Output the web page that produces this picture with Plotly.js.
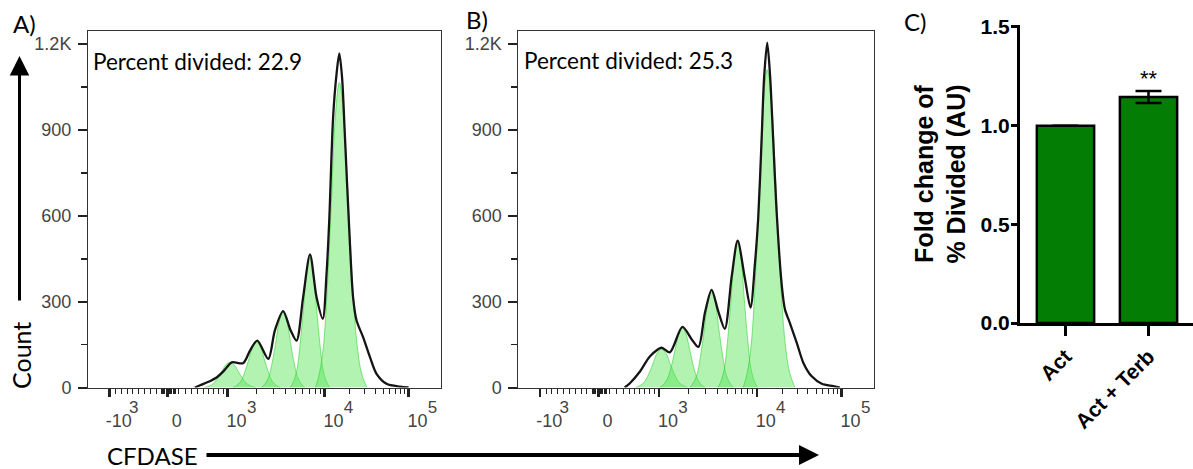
<!DOCTYPE html>
<html>
<head>
<meta charset="utf-8">
<script src="https://cdn.plot.ly/plotly-3.0.1.min.js"></script>
<style>html,body{margin:0;padding:0;background:#fff;}#chart{width:1193px;height:469px;}</style>
</head>
<body>
<div id="chart"></div>
<script>
// ---------- DATA ----------
// x values are CFDASE display channels (0-1024 on the biexponential scale)
const xTickChannels = [63, 231, 405, 686, 930];
const xTickBase = ["-10", "0", "10", "10", "10"];      // tick label base
const xTickExponent = ["3", "", "3", "4", "5"];        // tick label exponent
const yTickValues = [0, 300, 600, 900, 1200];
const yTickLabels = ["0", "300", "600", "900", "1.2K"];

// Panel A: measured histogram outline
const aOutlineCh    = [310, 325, 348, 374, 394, 417, 450, 470, 491, 523, 542, 566, 588, 605, 624, 644, 663, 681, 692, 700, 711, 721, 729, 737, 745, 758, 769, 779, 798, 818, 837, 866, 905, 930];
const aOutlineCount = [0, 8, 19, 36, 58, 88, 85, 129, 164, 100, 199, 267, 199, 164, 315, 465, 315, 240, 397, 590, 944, 1096, 1168, 1084, 886, 548, 315, 234, 176, 106, 48, 13, 3, 0];
// Panel A: fitted generation peaks
const aPeaksCh = [
  [337, 349, 362, 374, 387, 399, 412, 425, 437, 450, 462, 475, 487],
  [420, 431, 443, 454, 466, 477, 489, 501, 512, 524, 535, 547, 558],
  [503, 513, 524, 534, 545, 555, 566, 577, 587, 598, 608, 619, 629],
  [587, 596, 606, 615, 625, 634, 644, 654, 663, 673, 682, 692, 701],
  [660, 671, 683, 694, 706, 717, 729, 742, 755, 768, 781, 794, 809]
];
const aPeaksCount = [
  [0, 4, 12, 29, 53, 78, 88, 78, 53, 29, 12, 4, 0],
  [0, 7, 21, 51, 96, 139, 158, 139, 96, 51, 21, 7, 0],
  [0, 12, 36, 85, 160, 232, 263, 232, 160, 85, 36, 12, 0],
  [0, 20, 61, 148, 276, 401, 455, 401, 276, 148, 61, 20, 0],
  [0, 47, 144, 346, 647, 940, 1066, 940, 647, 346, 144, 47, 0]
];

// Panel B: measured histogram outline
const bOutlineCh    = [306, 321, 350, 379, 412, 436, 472, 499, 518, 537, 556, 575, 594, 614, 631, 652, 668, 681, 690, 700, 707, 716, 724, 733, 743, 758, 767, 781, 801, 820, 844, 873, 906, 925];
const bOutlineCount = [0, 15, 56, 109, 139, 123, 212, 168, 142, 262, 341, 267, 205, 390, 513, 379, 279, 437, 590, 871, 1082, 1205, 1094, 871, 615, 355, 273, 226, 156, 86, 39, 13, 5, 0];
// Panel B: fitted generation peaks
const bPeaksCh = [
  [337, 349, 362, 374, 387, 399, 412, 425, 437, 450, 462, 475, 487],
  [406, 417, 428, 439, 450, 461, 472, 483, 494, 505, 516, 527, 538],
  [493, 503, 514, 524, 535, 545, 556, 567, 577, 588, 598, 609, 619],
  [574, 583, 593, 602, 612, 621, 631, 641, 650, 660, 669, 679, 688],
  [647, 658, 670, 681, 693, 704, 716, 729, 742, 755, 768, 781, 796]
];
const bPeaksCount = [
  [0, 6, 18, 44, 82, 119, 135, 119, 82, 44, 18, 6, 0],
  [0, 9, 28, 68, 127, 184, 209, 184, 127, 68, 28, 9, 0],
  [0, 15, 45, 109, 203, 295, 335, 295, 203, 109, 45, 15, 0],
  [0, 22, 68, 165, 308, 447, 507, 447, 308, 165, 68, 22, 0],
  [0, 49, 150, 361, 674, 980, 1111, 980, 674, 361, 150, 49, 0]
];

// Panel C: fold change of % divided
const groups = ["Act", "Act + Terb"];
const foldChange = [1.0, 1.145];
const foldChangeErr = [null, 0.03];
const panelLabels = ["A)", "B)", "C)"];
const percentDivided = ["22.9", "25.3"];

// ---------- LAYOUT HELPERS ----------
const W = 1193, H = 469;
const fx = p => p / W;
const fy = p => 1 - p / H;
const TXT = "Lato, 'Open Sans', sans-serif";
const ARIAL = "'Liberation Sans', Arial, sans-serif";

// minor tick positions on the channel scale (styling only)
function minorTicks() {
  const t = [];
  const [cN, c0, c3, c4, c5] = xTickChannels;
  for (let v = 100; v <= 900; v += 100) t.push(c0 - (v / 1000) * (c0 - cN));
  [-16, -12, -8, -4, 4, 8, 12, 16, 20, 24].forEach(d => t.push(c0 + d));
  for (let v = 100; v <= 900; v += 100) t.push(c0 + Math.pow(v / 1000, 0.75) * (c3 - c0));
  for (let k = 2; k <= 9; k++) t.push(c3 + Math.log10(k) * (c4 - c3));
  for (let k = 2; k <= 9; k++) t.push(c4 + Math.log10(k) * (c5 - c4));
  return t;
}

const traces = [];
function addPanel(peaksCh, peaksCount, outCh, outCount, xa, ya) {
  for (let i = 0; i < peaksCh.length; i++) {
    traces.push({
      type: 'scatter', mode: 'lines', x: peaksCh[i], y: peaksCount[i],
      xaxis: xa, yaxis: ya, fill: 'tozeroy',
      fillcolor: 'rgba(85,228,85,0.45)',
      line: {shape: 'spline', smoothing: 1, color: 'rgba(40,205,40,0.55)', width: 1},
      hoverinfo: 'skip', showlegend: false
    });
  }
  traces.push({
    type: 'scatter', mode: 'lines', x: outCh, y: outCount, xaxis: xa, yaxis: ya,
    line: {shape: 'spline', smoothing: 0.8, color: '#151515', width: 2.3},
    hoverinfo: 'skip', showlegend: false
  });
}
addPanel(aPeaksCh, aPeaksCount, aOutlineCh, aOutlineCount, 'x', 'y');
addPanel(bPeaksCh, bPeaksCount, bOutlineCh, bOutlineCount, 'x2', 'y2');
// invisible carriers so the exponent label axes are drawn
traces.push({type: 'scatter', mode: 'markers', x: [xTickChannels[0]], y: [0], xaxis: 'x4', yaxis: 'y', marker: {opacity: 0}, hoverinfo: 'skip', showlegend: false});
traces.push({type: 'scatter', mode: 'markers', x: [xTickChannels[0]], y: [0], xaxis: 'x5', yaxis: 'y2', marker: {opacity: 0}, hoverinfo: 'skip', showlegend: false});

traces.push({
  type: 'bar', x: groups, y: foldChange, xaxis: 'x3', yaxis: 'y3', width: 0.69,
  marker: {color: '#037d03', line: {color: '#000', width: 2.5}},
  error_y: {type: 'data', array: foldChangeErr, visible: true, color: '#000', thickness: 2.5, width: 13},
  hoverinfo: 'skip', showlegend: false
});

const histX = (dom) => ({
  domain: dom, range: [0, 1024], showgrid: false, zeroline: false,
  showline: true, mirror: true, linecolor: '#333', linewidth: 1,
  tickmode: 'array', tickvals: xTickChannels, ticktext: xTickBase,
  ticks: 'outside', ticklen: 8, tickwidth: 2.5, tickcolor: '#222',
  ticklabelshift: 9, ticklabelstandoff: 9,
  tickfont: {family: ARIAL, size: 18, color: '#444'},
  minor: {tickmode: 'array', tickvals: minorTicks(), ticks: 'outside', ticklen: 5, tickwidth: 1, tickcolor: '#222'}
});
const expX = (over, anchor) => ({
  overlaying: over, anchor: anchor, side: 'bottom', range: [0, 1024],
  showgrid: false, zeroline: false, showline: false, ticks: '',
  tickmode: 'array', tickvals: xTickChannels, ticktext: xTickExponent,
  ticklabelshift: 24, ticklabelstandoff: 7,
  tickfont: {family: ARIAL, size: 17, color: '#444'}
});
const histY = (anchor) => ({
  domain: [fy(387.5), fy(31)], range: [0, 1246], anchor: anchor,
  showgrid: false, zeroline: false, showline: true, mirror: true, linecolor: '#333', linewidth: 1,
  tickmode: 'array', tickvals: yTickValues, ticktext: yTickLabels,
  ticks: 'outside', ticklen: 9, tickwidth: 2, tickcolor: '#222',
  ticklabelstandoff: 3,
  tickfont: {family: ARIAL, size: 18, color: '#444'},
  minor: {tickmode: 'array', tickvals: [150, 450, 750, 1050], ticks: 'outside', ticklen: 6, tickwidth: 1.5, tickcolor: '#222'}
});

const layout = {
  width: W, height: H, margin: {l: 0, r: 0, t: 0, b: 0},
  paper_bgcolor: '#fff', plot_bgcolor: '#fff', showlegend: false,
  xaxis: Object.assign(histX([fx(88), fx(441)]), {anchor: 'y'}),
  yaxis: histY('x'),
  xaxis2: Object.assign(histX([fx(518.3), fx(874.3)]), {anchor: 'y2'}),
  yaxis2: histY('x2'),
  xaxis4: expX('x', 'y'),
  xaxis5: expX('x2', 'y2'),
  xaxis3: {
    domain: [fx(1020), 1], anchor: 'y3', type: 'category', range: [-0.548, 1.536],
    showline: true, linecolor: '#000', linewidth: 3, showgrid: false, zeroline: false,
    ticks: 'outside', ticklen: 10, tickwidth: 3, tickcolor: '#000', tickangle: -45,
    tickfont: {family: ARIAL, size: 21, color: '#000', weight: 'bold'}
  },
  yaxis3: {
    domain: [fy(323), fy(25)], anchor: 'x3', range: [0, 1.51],
    showline: true, linecolor: '#000', linewidth: 3, showgrid: false, zeroline: false,
    tickmode: 'array', tickvals: [0, 0.5, 1.0, 1.5], ticktext: ['0.0', '0.5', '1.0', '1.5'],
    ticks: 'outside', ticklen: 6, tickwidth: 3, tickcolor: '#000', ticklabelstandoff: -3,
    tickfont: {family: ARIAL, size: 21, color: '#000', weight: 'bold'},
    title: {text: 'Fold change of<br>% Divided (AU)', standoff: 8,
            font: {family: ARIAL, size: 25, color: '#000', weight: 'bold'}}
  },
  annotations: [
    {text: panelLabels[0], xref: 'paper', yref: 'paper', x: fx(11), y: fy(23), xanchor: 'left', yanchor: 'middle', showarrow: false, font: {family: TXT, size: 24, color: '#000'}},
    {text: panelLabels[1], xref: 'paper', yref: 'paper', x: fx(464), y: fy(20), xanchor: 'left', yanchor: 'middle', showarrow: false, font: {family: TXT, size: 24, color: '#000'}},
    {text: panelLabels[2], xref: 'paper', yref: 'paper', x: fx(902), y: fy(22), xanchor: 'left', yanchor: 'middle', showarrow: false, font: {family: TXT, size: 24, color: '#000'}},
    {text: 'Percent divided: ' + percentDivided[0], xref: 'paper', yref: 'paper', x: fx(91), y: fy(61), xanchor: 'left', yanchor: 'middle', showarrow: false, font: {family: TXT, size: 22.5, color: '#000'}},
    {text: 'Percent divided: ' + percentDivided[1], xref: 'paper', yref: 'paper', x: fx(522), y: fy(60), xanchor: 'left', yanchor: 'middle', showarrow: false, font: {family: TXT, size: 22.5, color: '#000'}},
    {text: 'Count', xref: 'paper', yref: 'paper', x: fx(21), y: fy(356), xanchor: 'center', yanchor: 'middle', textangle: -90, showarrow: false, font: {family: TXT, size: 25, color: '#000'}},
    {text: 'CFDASE', xref: 'paper', yref: 'paper', x: fx(152), y: fy(455), xanchor: 'center', yanchor: 'middle', showarrow: false, font: {family: TXT, size: 24, color: '#000'}},
    {text: '', xref: 'paper', yref: 'paper', x: fx(19.5), y: fy(56), ax: 0, ay: 246, axref: 'pixel', ayref: 'pixel', showarrow: true, arrowhead: 2, arrowsize: 1.3, arrowwidth: 3, arrowcolor: '#000', standoff: 0},
    {text: '', xref: 'paper', yref: 'paper', x: fx(819), y: fy(455), ax: -614, ay: 0, axref: 'pixel', ayref: 'pixel', showarrow: true, arrowhead: 2, arrowsize: 1.0, arrowwidth: 4, arrowcolor: '#000', standoff: 0},
    {text: '**', xref: 'x3', yref: 'y3', x: 1, y: 1.165, xanchor: 'center', yanchor: 'bottom', showarrow: false, font: {family: ARIAL, size: 22, color: '#000'}}
  ]
};

Plotly.newPlot('chart', traces, layout, {displayModeBar: false, staticPlot: true});
</script>
</body>
</html>
